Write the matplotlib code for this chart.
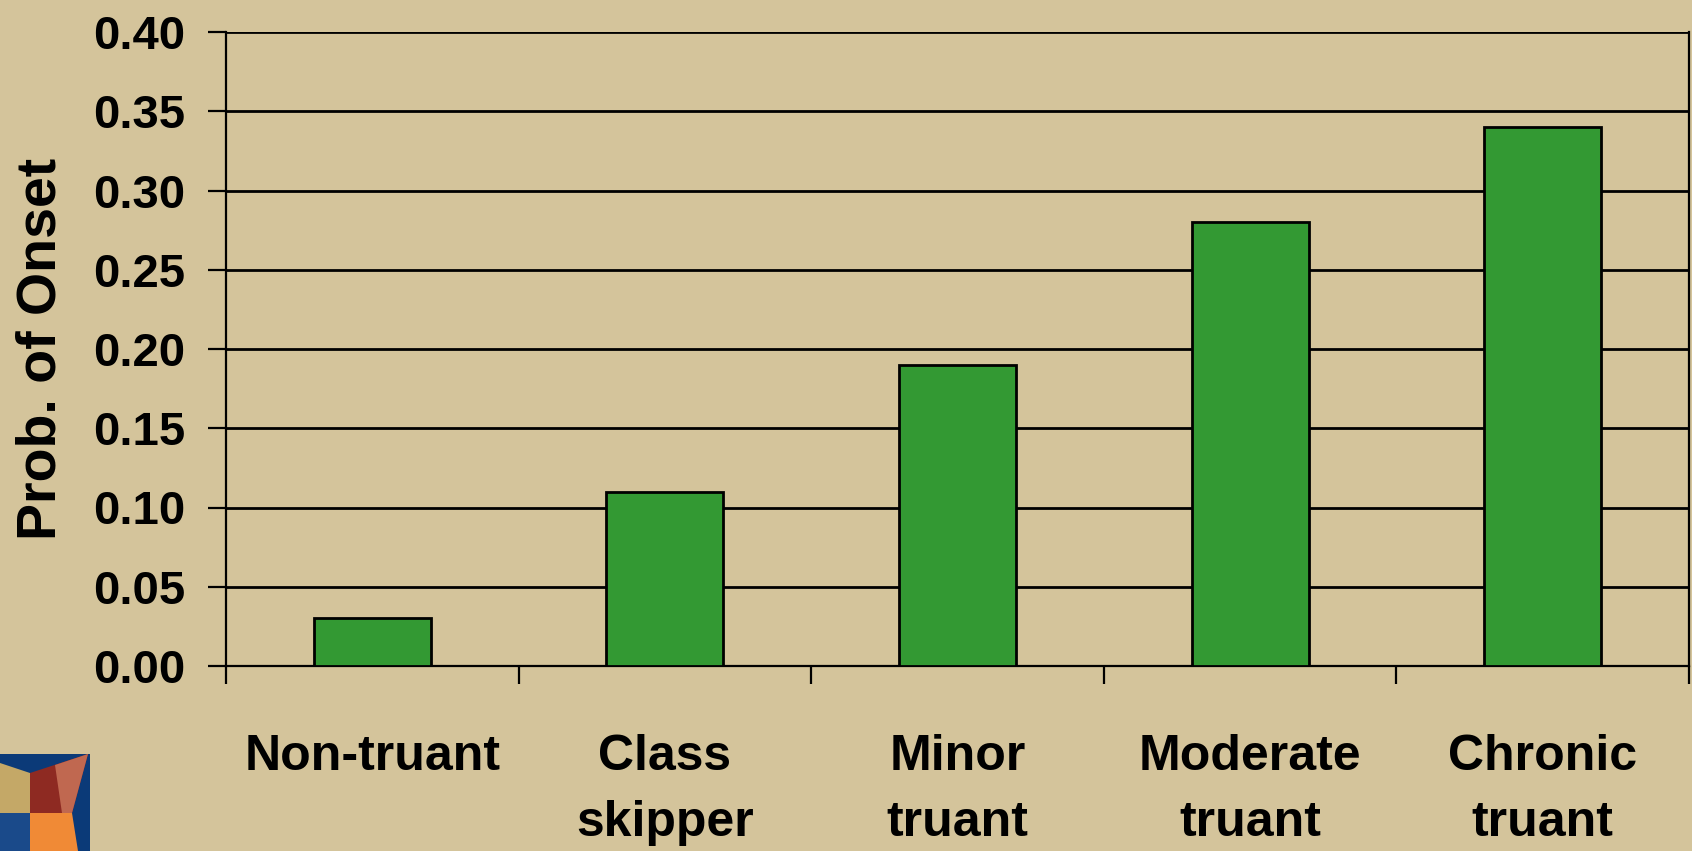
import matplotlib
matplotlib.use("Agg")
import matplotlib.pyplot as plt
from matplotlib.patches import Polygon
from matplotlib import font_manager as fm
from matplotlib.transforms import blended_transform_factory
import numpy as np

categories = ["Non-truant", "Class\nskipper", "Minor\ntruant", "Moderate\ntruant", "Chronic\ntruant"]
values = [0.03, 0.11, 0.19, 0.28, 0.34]
yticks = [0.00, 0.05, 0.10, 0.15, 0.20, 0.25, 0.30, 0.35, 0.40]
ylabel = "Prob. of Onset"

BG = "#D4C49B"
GREEN = "#339933"

names = {f.name for f in fm.fontManager.ttflist}
if 'Liberation Sans Narrow' in names:
    HFONT = ['Liberation Sans Narrow', 'Liberation Sans', 'DejaVu Sans']
    XL_SIZE, YT_SIZE, LS = 41, 38, 1.3
else:
    HFONT = ['Liberation Sans', 'DejaVu Sans']
    XL_SIZE, YT_SIZE, LS = 36, 34, 1.55

plt.rcParams['font.family'] = ['Liberation Sans', 'DejaVu Sans']
plt.rcParams['font.weight'] = 'bold'

W, H = 1692, 851
fig = plt.figure(figsize=(W / 100, H / 100), dpi=100, facecolor=BG)
ax = fig.add_axes([226 / W, 1 - 666 / H, (1689 - 226) / W, (666 - 32) / H], facecolor=BG)

x = np.arange(len(categories))
ax.bar(x, values, width=0.40, color=GREEN, edgecolor="black", linewidth=2, zorder=3)

ax.set_xlim(-0.5, len(categories) - 0.5)
ax.set_ylim(0, 0.40)
ax.set_yticks(yticks)
ax.set_yticklabels([f"{v:.2f}" for v in yticks], fontsize=YT_SIZE, fontweight='bold', family=HFONT)
ax.yaxis.grid(True, color="black", linewidth=2, zorder=0)
ax.set_axisbelow(True)

# category boundary ticks, labels centered between
ax.set_xticks(np.arange(len(categories) + 1) - 0.5)
ax.set_xticklabels([])
ax.set_xticks(x, minor=True)
ax.set_xticklabels(categories, minor=True, fontsize=XL_SIZE, fontweight='bold',
                   linespacing=LS, family=HFONT)
ax.tick_params(axis='x', which='minor', length=0, pad=49)
ax.tick_params(axis='x', which='major', length=13, width=1.6, direction='out')
ax.tick_params(axis='y', length=13, width=1.6, direction='out', pad=16)

for s in ['left', 'bottom', 'right']:
    ax.spines[s].set_linewidth(1.6)
    ax.spines[s].set_color("black")
ax.spines['top'].set_visible(False)

ax.set_ylabel(ylabel, fontsize=40, fontweight='bold')
ax.yaxis.set_label_coords(67 / W, 0.5,
                          transform=blended_transform_factory(fig.transFigure, ax.transAxes))

# logo (decorative) in bottom-left corner, pixel coordinates
def px(pts):
    return [(a / W, 1 - b / H) for a, b in pts]

logo = [
    (px([(0, 754), (90, 754), (90, 851), (0, 851)]), "#0B3A78"),
    (px([(0, 763), (30, 773), (30, 813), (0, 813)]), "#C4A867"),
    (px([(30, 773), (88, 754), (72, 813), (30, 813)]), "#8E2A22"),
    (px([(55, 765), (88, 754), (72, 813), (62, 813)]), "#C06850"),
    (px([(30, 813), (72, 813), (78, 851), (30, 851)]), "#F08A36"),
    (px([(0, 813), (30, 813), (30, 851), (0, 851)]), "#1A4A8A"),
]
for pts, c in logo:
    fig.add_artist(Polygon(pts, closed=True, transform=fig.transFigure, facecolor=c, edgecolor='none'))

fig.savefig("out.png", dpi=100, facecolor=BG)
